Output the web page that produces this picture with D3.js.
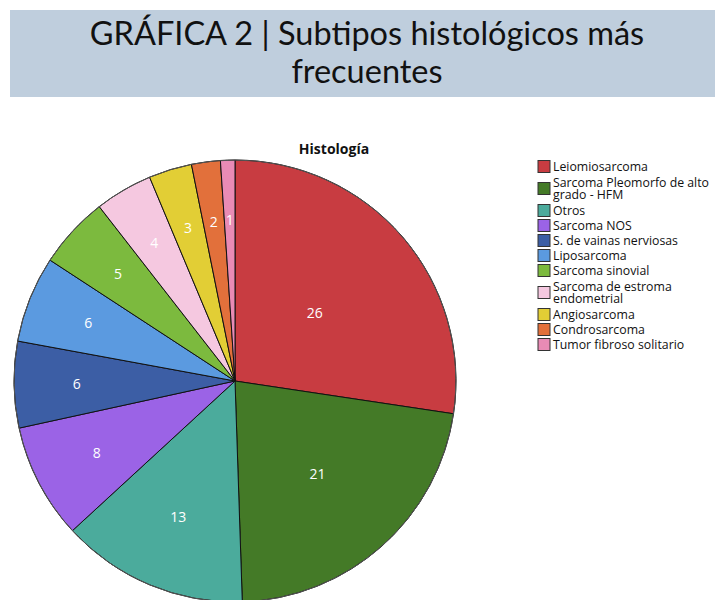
<!DOCTYPE html>
<html>
<head>
<meta charset="utf-8">
<script src="https://cdn.jsdelivr.net/npm/d3@7"></script>
<style>
  body { margin: 0; background: #fff; }
  svg { display: block; }
</style>
</head>
<body>
<svg id="chart" width="715" height="600"></svg>
<script>
// Datos de la gráfica (histología)
const categorias = [
  "Leiomiosarcoma",
  "Sarcoma Pleomorfo de alto grado - HFM",
  "Otros",
  "Sarcoma NOS",
  "S. de vainas nerviosas",
  "Liposarcoma",
  "Sarcoma sinovial",
  "Sarcoma de estroma endometrial",
  "Angiosarcoma",
  "Condrosarcoma",
  "Tumor fibroso solitario"
];
const valores = [26, 21, 13, 8, 6, 6, 5, 4, 3, 2, 1];
// etiquetas de leyenda partidas en líneas
const leyendaLineas = [
  ["Leiomiosarcoma"],
  ["Sarcoma Pleomorfo de alto", "grado - HFM"],
  ["Otros"],
  ["Sarcoma NOS"],
  ["S. de vainas nerviosas"],
  ["Liposarcoma"],
  ["Sarcoma sinovial"],
  ["Sarcoma de estroma", "endometrial"],
  ["Angiosarcoma"],
  ["Condrosarcoma"],
  ["Tumor fibroso solitario"]
];
const colores = [
  "#c83c41", "#447a27", "#4bab9c", "#9b63e6", "#3c5ea5", "#5b9ae0",
  "#7cba3e", "#f5c8e0", "#e2ce35", "#e2703b", "#e98bb5"
];

const svg = d3.select("#chart");

// Cabecera
svg.append("rect")
  .attr("x", 10).attr("y", 10)
  .attr("width", 705).attr("height", 87)
  .attr("fill", "#bfcedd");

const titulo = ["GRÁFICA 2 | Subtipos histológicos más", "frecuentes"];
svg.selectAll("text.titulo")
  .data(titulo)
  .enter()
  .append("text")
    .attr("class", "titulo")
    .attr("x", 367)
    .attr("y", (d, i) => 45 + i * 38)
    .attr("text-anchor", "middle")
    .attr("font-family", "Lato, 'Open Sans', sans-serif")
    .attr("font-size", "32.5px")
    .attr("fill", "#111")
    .text(d => d);

svg.append("text")
  .attr("x", 334)
  .attr("y", 154)
  .attr("text-anchor", "middle")
  .attr("font-family", "'Open Sans', 'DejaVu Sans', sans-serif")
  .attr("font-size", "14px")
  .attr("font-weight", "700")
  .attr("fill", "#111")
  .text("Histología");

// Pastel
const cx = 235, cy = 381, radio = 221;
const datos = valores.map((v, i) => ({ nombre: categorias[i], valor: v, i }));

const pie = d3.pie()
  .value(d => d.valor)
  .sort(null);

const arc = d3.arc().innerRadius(0).outerRadius(radio);

const g = svg.append("g")
  .attr("transform", `translate(${cx},${cy})`);

const arcos = pie(datos);

g.selectAll("path")
  .data(arcos)
  .enter()
  .append("path")
    .attr("d", arc)
    .attr("fill", d => colores[d.data.i])
    .attr("stroke", "#111")
    .attr("stroke-width", 1);

// borde exterior gris
g.append("circle")
  .attr("r", radio)
  .attr("fill", "none")
  .attr("stroke", "#555")
  .attr("stroke-width", 1);

// etiquetas de valor
g.selectAll("text.valor")
  .data(arcos)
  .enter()
  .append("text")
    .attr("class", "valor")
    .attr("transform", d => {
      const medio = (d.startAngle + d.endAngle) / 2;
      const mitad = (d.endAngle - d.startAngle) / 2;
      const dist = radio * 0.73 * Math.cos(mitad);
      return `translate(${Math.sin(medio) * dist},${-Math.cos(medio) * dist})`;
    })
    .attr("text-anchor", "middle")
    .attr("dominant-baseline", "central")
    .attr("font-family", "'Open Sans', sans-serif")
    .attr("font-size", "14px")
    .attr("fill", "#fff")
    .text(d => d.data.valor);

// Leyenda
const leyenda = svg.append("g")
  .attr("transform", "translate(538,159)");

let yAcum = 0;
const filas = leyendaLineas.map((lineas, i) => {
  const alto = lineas.length === 1 ? 15 : 29;
  const fila = { lineas, i, y: yAcum, alto };
  yAcum += alto;
  return fila;
});

const itemsLeyenda = leyenda.selectAll("g")
  .data(filas)
  .enter()
  .append("g")
    .attr("transform", d => `translate(0,${d.y})`);

itemsLeyenda.append("rect")
  .attr("x", 0)
  .attr("y", d => d.alto / 2 - 6)
  .attr("width", 12)
  .attr("height", 12)
  .attr("fill", d => colores[d.i])
  .attr("stroke", "#333")
  .attr("stroke-width", 1);

itemsLeyenda.each(function(d) {
  const t = d3.select(this).append("text")
    .attr("font-family", "'Open Sans', 'DejaVu Sans', sans-serif")
    .attr("font-size", "12.3px")
    .attr("fill", "#111");
  const inicio = d.alto / 2 - (d.lineas.length - 1) * 6;
  d.lineas.forEach((l, j) => {
    t.append("tspan")
      .attr("x", 15)
      .attr("y", inicio + j * 12)
      .attr("dominant-baseline", "central")
      .text(l);
  });
});
</script>
</body>
</html>
